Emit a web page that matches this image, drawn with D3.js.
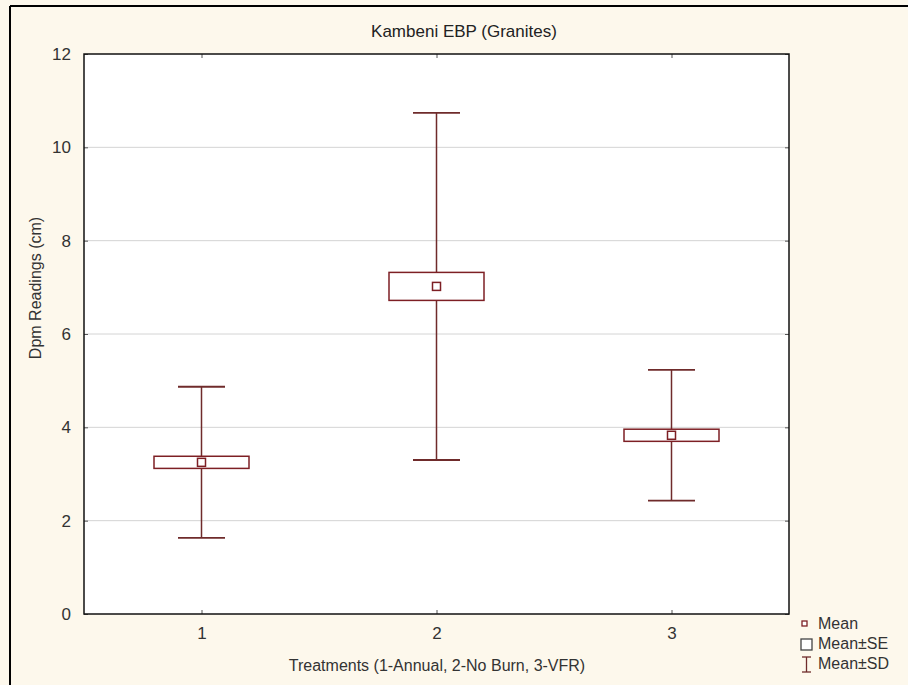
<!DOCTYPE html>
<html><head><meta charset="utf-8">
<script src="https://cdn.jsdelivr.net/npm/d3@7"></script>
<style>html,body{margin:0;padding:0;background:#fdf8ec;}svg{display:block;font-family:"Liberation Sans",Arial,sans-serif;}</style>
</head><body>
<script>
const categories = ["1","2","3"];
const means = [3.25, 7.02, 3.83];
const se = [0.13, 0.30, 0.13];
const sd = [1.62, 3.72, 1.40];
const yTicks = [0,2,4,6,8,10,12];
const title = "Kambeni EBP (Granites)";
const xLabel = "Treatments (1-Annual, 2-No Burn, 3-VFR)";
const yLabel = "Dpm Readings (cm)";
const legendItems = ["Mean","Mean±SE","Mean±SD"];

const W=908,H=685;
const svg=d3.select("body").append("svg").attr("width",W).attr("height",H);
svg.append("rect").attr("width",W).attr("height",H).attr("fill","#fdf8ec");
// outer frame
svg.append("line").attr("x1",10).attr("x2",W).attr("y1",6).attr("y2",6).attr("stroke","#000").attr("stroke-width",2);
svg.append("line").attr("x1",10).attr("x2",10).attr("y1",6).attr("y2",H).attr("stroke","#000").attr("stroke-width",2);

const L=84,R=789,T=54,B=614;
const x=d3.scaleLinear().domain([0.5,3.5]).range([L,R]);
const y=d3.scaleLinear().domain([0,12]).range([B,T]);

svg.append("rect").attr("x",L).attr("y",T).attr("width",R-L).attr("height",B-T).attr("fill","#fff");
// grid
svg.append("g").selectAll("line").data(yTicks.filter(t=>t>0&&t<12)).join("line")
  .attr("x1",L).attr("x2",R).attr("y1",d=>y(d)).attr("y2",d=>y(d)).attr("stroke","#d4d4d4").attr("stroke-width",1);

const tc="#333";
const yAxis=svg.append("g").attr("transform",`translate(${L},0)`).call(d3.axisLeft(y).tickValues(yTicks).tickSize(-4).tickPadding(13).tickFormat(d3.format("d")));
const xAxis=svg.append("g").attr("transform",`translate(0,${B})`).call(d3.axisBottom(x).tickValues([1,2,3]).tickSize(-4).tickPadding(13).tickFormat((d,i)=>categories[i]));
const xTop=svg.append("g").attr("transform",`translate(0,${T})`).call(d3.axisTop(x).tickValues([1,2,3]).tickSize(-4).tickFormat(""));
const yRight=svg.append("g").attr("transform",`translate(${R},0)`).call(d3.axisRight(y).tickValues(yTicks).tickSize(-4).tickFormat(""));
[yAxis,xAxis,xTop,yRight].forEach(g=>{g.select(".domain").remove();g.selectAll("line").attr("stroke","#555");g.selectAll("text").attr("fill",tc).style("font-size","17px").style("font-family","Liberation Sans, Arial, sans-serif");});
// frame
svg.append("rect").attr("x",L).attr("y",T).attr("width",R-L).attr("height",B-T).attr("fill","none").attr("stroke","#111").attr("stroke-width",1.5);

const whisk="#6f2b2b", boxc="#7d1f24";
const g=svg.append("g");
const capW=47, boxW=95, mS=8;
categories.forEach((c,i)=>{
  const cx=x(i+1);
  g.append("line").attr("x1",cx).attr("x2",cx).attr("y1",y(means[i]+sd[i])).attr("y2",y(means[i]-sd[i])).attr("stroke",whisk).attr("stroke-width",1.5);
  [means[i]+sd[i],means[i]-sd[i]].forEach(v=>{
    g.append("line").attr("x1",cx-capW/2).attr("x2",cx+capW/2).attr("y1",y(v)).attr("y2",y(v)).attr("stroke",whisk).attr("stroke-width",1.8);
  });
  g.append("rect").attr("x",cx-boxW/2).attr("y",y(means[i]+se[i])).attr("width",boxW).attr("height",y(means[i]-se[i])-y(means[i]+se[i]))
    .attr("fill","#fff").attr("stroke",boxc).attr("stroke-width",1.5);
  g.append("rect").attr("x",cx-mS/2).attr("y",y(means[i])-mS/2).attr("width",mS).attr("height",mS).attr("fill","#fff").attr("stroke",boxc).attr("stroke-width",1.5);
});

// titles
svg.append("text").attr("x",464).attr("y",37).attr("text-anchor","middle").attr("fill","#222").style("font-size","17px").text(title);
svg.append("text").attr("x",437).attr("y",671).attr("text-anchor","middle").attr("fill","#333").style("font-size","16px").text(xLabel);
svg.append("text").attr("transform","translate(41,288) rotate(-90)").attr("text-anchor","middle").attr("fill","#333").style("font-size","16px").text(yLabel);

// legend
const lg=svg.append("g");
lg.append("rect").attr("x",802).attr("y",621).attr("width",5).attr("height",5).attr("fill","#fff").attr("stroke",boxc).attr("stroke-width",1.3);
lg.append("rect").attr("x",801).attr("y",639).attr("width",11).attr("height",11).attr("fill","#fff").attr("stroke","#444").attr("stroke-width",1.3);
lg.append("line").attr("x1",806.5).attr("x2",806.5).attr("y1",657).attr("y2",672).attr("stroke",whisk).attr("stroke-width",1.3);
lg.append("line").attr("x1",802).attr("x2",811).attr("y1",657).attr("y2",657).attr("stroke",whisk).attr("stroke-width",1.3);
lg.append("line").attr("x1",802).attr("x2",811).attr("y1",672).attr("y2",672).attr("stroke",whisk).attr("stroke-width",1.3);
lg.selectAll("text.l").data(legendItems).join("text").attr("class","l")
  .attr("x",818).attr("y",(d,i)=>[629,649,669][i]).attr("fill","#333").style("font-size","16px").text(d=>d);
</script>
</body></html>
